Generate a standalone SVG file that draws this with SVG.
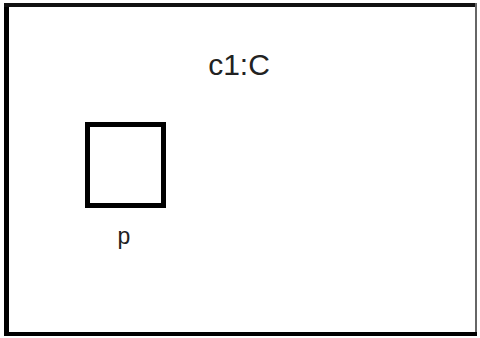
<svg xmlns="http://www.w3.org/2000/svg" width="480" height="338" viewBox="0 0 480 338">
<style>
.lbl{font-family:"Liberation Sans",Arial,sans-serif;fill:#222;text-anchor:middle}
</style>
<rect width="480" height="338" fill="#fff"/>
<g id="c1">
<line x1="6.5" y1="3" x2="6.5" y2="336" stroke="#000" stroke-width="5"/>
<line x1="4" y1="5" x2="477" y2="5" stroke="#111" stroke-width="4"/>
<line x1="476" y1="3" x2="476" y2="336" stroke="#666" stroke-width="2"/>
<line x1="4" y1="334" x2="477" y2="334" stroke="#000" stroke-width="4"/>
<text class="lbl" x="239" y="75" font-size="30">c1:C</text>
</g>
<g id="p">
<rect x="87.5" y="124.5" width="76" height="81" fill="none" stroke="#000" stroke-width="5"/>
<text class="lbl" x="124" y="244" font-size="23">p</text>
</g>
<g id="connectors"></g>
</svg>
